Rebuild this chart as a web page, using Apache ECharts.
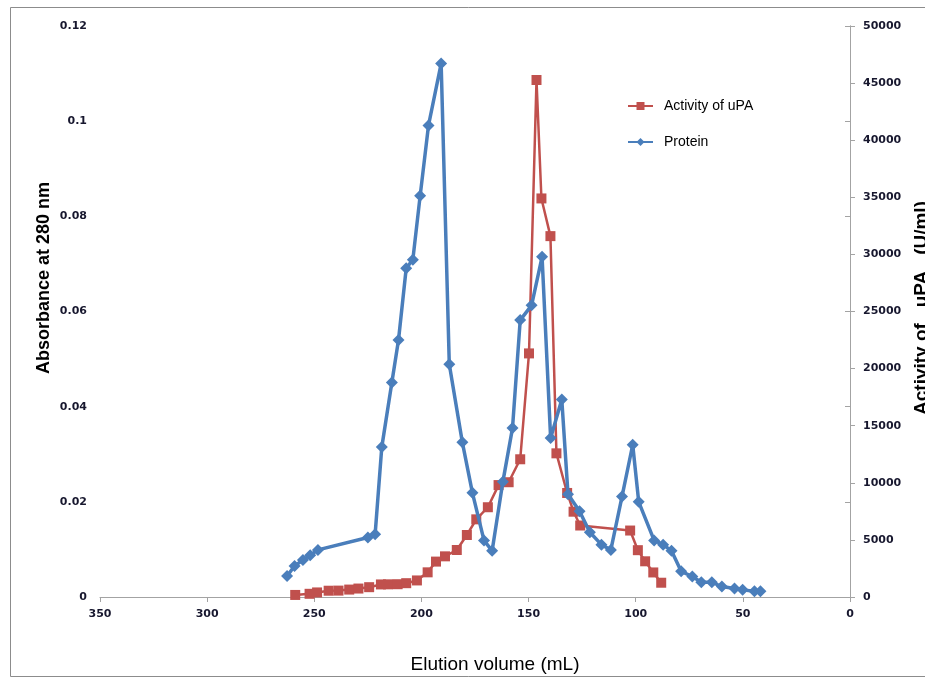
<!DOCTYPE html>
<html>
<head>
<meta charset="utf-8">
<script src="https://cdn.jsdelivr.net/npm/echarts@6/dist/echarts.min.js"></script>
<style>
html,body{margin:0;padding:0;background:#fff;}
#chart{width:925px;height:679px;}
</style>
</head>
<body>
<div id="chart"></div>
<script>
// Protein (absorbance at 280 nm, left axis)
const proteinVolume = [262.7, 259.2, 255.3, 251.9, 248.3, 225.0, 221.6, 218.5, 213.8, 210.7,
  207.1, 204.0, 200.6, 196.7, 190.8, 187.0, 180.9, 176.2, 170.8, 167.0,
  162.0, 157.5, 153.9, 148.6, 143.7, 139.7, 134.5, 131.6, 126.2, 121.4,
  116.0, 111.6, 106.4, 101.4, 98.6, 91.4, 87.2, 83.3, 78.8, 73.6,
  69.4, 64.5, 59.8, 53.9, 50.1, 44.6, 41.8];
const proteinAbs = [0.0044, 0.0065, 0.0078, 0.0088, 0.0099, 0.0125, 0.0132, 0.0315, 0.0451, 0.0540,
  0.0691, 0.0709, 0.0843, 0.0991, 0.1121, 0.0489, 0.0325, 0.0219, 0.0119, 0.0097,
  0.0242, 0.0355, 0.0582, 0.0613, 0.0715, 0.0334, 0.0415, 0.0216, 0.0180, 0.0136,
  0.0110, 0.0099, 0.0211, 0.0320, 0.0200, 0.0119, 0.0110, 0.0097, 0.0054, 0.0043,
  0.0031, 0.0031, 0.0022, 0.0018, 0.0015, 0.0012, 0.0012];

// Activity of uPA (U/ml, right axis)
const activityVolume = [258.9, 252.2, 248.7, 243.3, 238.7, 233.7, 229.4, 224.4, 218.9, 215.6,
  211.1, 207.1, 202.1, 197.1, 193.2, 189.0, 183.5, 178.8, 174.4, 169.0,
  164.0, 159.3, 153.9, 149.8, 146.3, 144.0, 139.8, 137.0, 132.0, 129.0,
  125.9, 102.6, 99.0, 95.6, 91.8, 88.1];
const activityValue = [180, 280, 400, 550, 560, 650, 740, 860, 1100, 1110,
  1120, 1210, 1450, 2160, 3100, 3560, 4115, 5430, 6800, 7860,
  9800, 10050, 12060, 21330, 45270, 34900, 31600, 12580, 9110, 7470,
  6260, 5820, 4100, 3126, 2150, 1250];

const seriesNames = ['Activity of uPA', 'Protein'];
const xTitle = 'Elution volume (mL)';
const yLeftTitle = 'Absorbance at 280 nm';
const yRightTitle = 'Activity of   uPA   (U/ml)';

const pair = (xs, ys) => xs.map((x, i) => [x, ys[i]]);

const axisColor = '#a3a3a3';
const labelStyle = {fontFamily: 'DejaVu Sans', fontWeight: 'bold', fontSize: 11, color: '#17172e', formatter: v => String(v)};

const chart = echarts.init(document.getElementById('chart'), null, {renderer: 'canvas'});
chart.setOption({
  animation: false,
  backgroundColor: '#ffffff',
  grid: {left: 100, right: 75, top: 26, bottom: 82},
  legend: {
    orient: 'vertical',
    left: 622, top: 94,
    itemWidth: 25, itemHeight: 10, itemGap: 22,
    data: seriesNames,
    textStyle: {fontFamily: 'Liberation Sans', fontSize: 14, color: '#000', padding: [0, 0, 0, 6]}
  },
  xAxis: {
    type: 'value', inverse: true, min: 0, max: 350, interval: 50,
    axisLine: {show: true, lineStyle: {color: axisColor, width: 1}},
    axisTick: {show: true, inside: false, length: 5, lineStyle: {color: axisColor}},
    splitLine: {show: false},
    axisLabel: Object.assign({margin: 12}, labelStyle)
  },
  yAxis: [{
    type: 'value', min: 0, max: 0.12, interval: 0.02, position: 'left',
    axisLine: {show: true, lineStyle: {color: axisColor, width: 1}},
    axisTick: {show: true, inside: false, length: 5, lineStyle: {color: axisColor}},
    splitLine: {show: false},
    axisLabel: Object.assign({margin: 13}, labelStyle)
  }, {
    type: 'value', min: 0, max: 50000, interval: 5000, position: 'right',
    axisLine: {show: true, lineStyle: {color: axisColor, width: 1}},
    axisTick: {show: true, inside: false, length: 5, lineStyle: {color: axisColor}},
    splitLine: {show: false},
    axisLabel: Object.assign({margin: 13}, labelStyle)
  }],
  series: [{
    name: seriesNames[0], type: 'line', yAxisIndex: 1, z: 2,
    data: pair(activityVolume, activityValue),
    symbol: 'rect', symbolSize: 10, showAllSymbol: true,
    lineStyle: {color: '#C0504D', width: 2.5},
    itemStyle: {color: '#C0504D'}
  }, {
    name: seriesNames[1], type: 'line', yAxisIndex: 0, z: 3,
    data: pair(proteinVolume, proteinAbs),
    symbol: 'diamond', symbolSize: 12, showAllSymbol: true,
    lineStyle: {color: '#4A7EBB', width: 3.5},
    itemStyle: {color: '#4A7EBB'}
  }],
  graphic: [{
    type: 'rect', silent: true, z: -1,
    shape: {x: 10.5, y: 7.5, width: 930, height: 669},
    style: {fill: 'none', stroke: '#8c8c8c', lineWidth: 1}
  }, {
    type: 'text', x: 495, y: 665,
    style: {text: xTitle, font: '19px "Liberation Sans"', fill: '#000', align: 'center', verticalAlign: 'middle'}
  }, {
    type: 'text', x: 44, y: 278, rotation: Math.PI / 2,
    style: {text: yLeftTitle, font: 'bold 18px "Liberation Sans"', fill: '#000', align: 'center', verticalAlign: 'middle'}
  }, {
    type: 'text', x: 922, y: 308, rotation: Math.PI / 2,
    style: {text: yRightTitle, font: 'bold 19px "Liberation Sans"', fill: '#000', align: 'center', verticalAlign: 'middle'}
  }]
});
</script>
</body>
</html>
